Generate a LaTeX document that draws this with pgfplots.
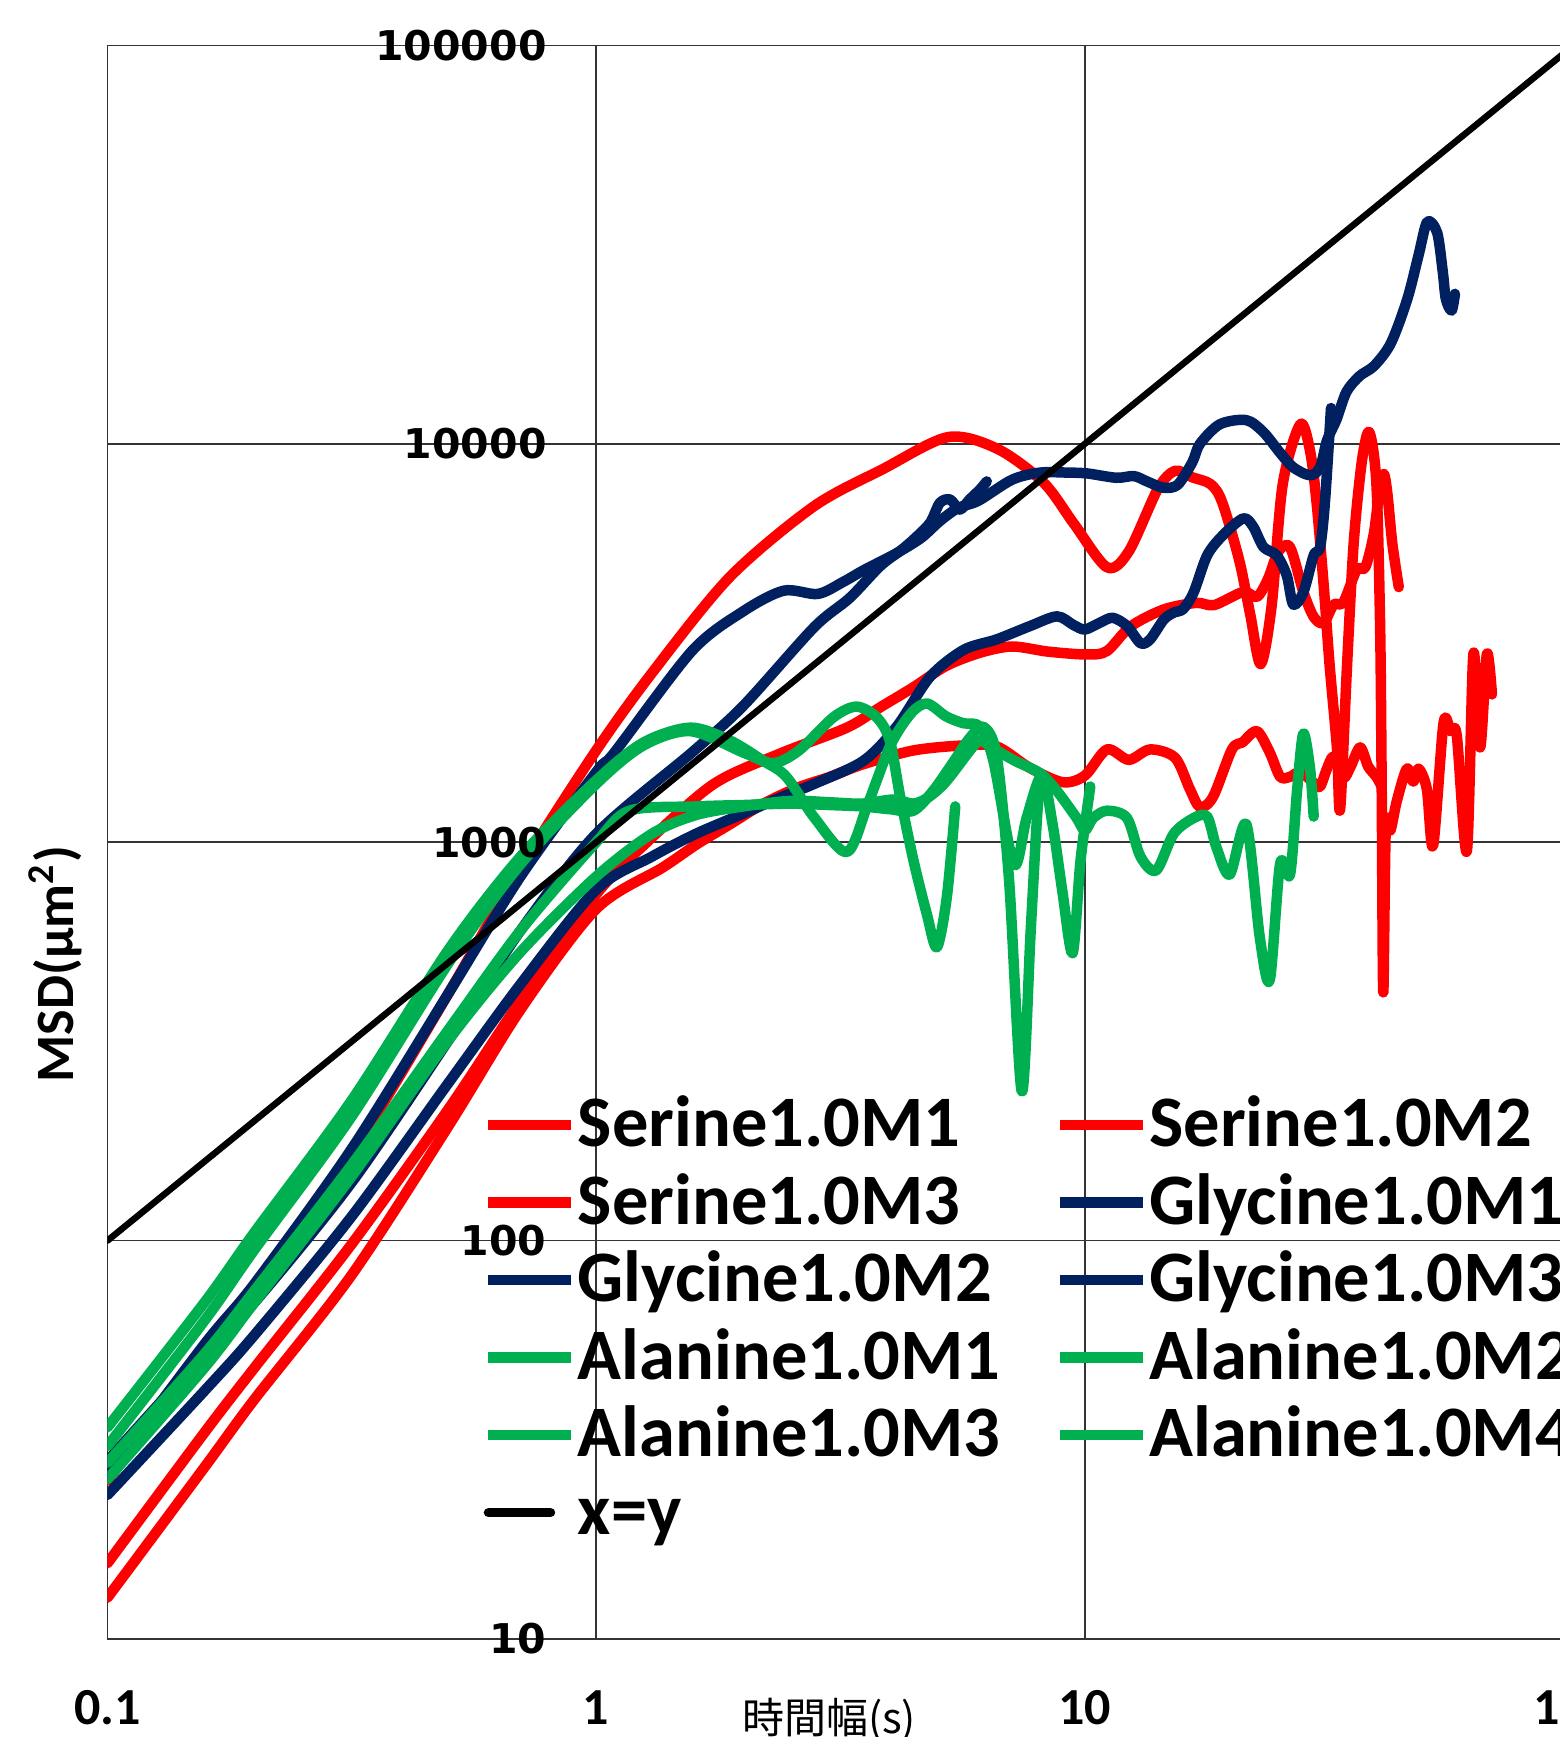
\documentclass[border=0pt]{standalone}
\usepackage{fontspec}
\setmainfont{Carlito}
\newfontfamily\dejavu{DejaVu Sans}
\newfontfamily\cjk{Noto Sans CJK JP}
\usepackage{pgfplots}
\pgfplotsset{compat=1.18}
\definecolor{sred}{HTML}{FF0000}
\definecolor{gnavy}{HTML}{002060}
\definecolor{agreen}{HTML}{00B050}
\begin{document}
\begin{tikzpicture}
\useasboundingbox (-21.5pt,-19.6pt) rectangle (290.5pt,327.8pt);
\begin{axis}[
  scale only axis, width=293.2pt, height=318.7pt,
  xmode=log, ymode=log, xmin=0.1, xmax=100, ymin=10, ymax=100000,
  xtick={0.1,1,10,100}, xticklabels={0.1,1,10,100},
  ytick={10,100,1000,10000,100000}, yticklabels={10,100,1000,10000,100000},
  yticklabel style={opacity=0},
  major tick length=0pt, minor tick length=0pt,
  grid=major, major grid style={line width=0.3pt, black!80},
  axis line style={line width=0.3pt, black!80},
  xticklabel style={font=\bfseries\fontsize{10.4}{12}\selectfont, anchor=north, inner sep=0pt, yshift=-10.1pt},
  ylabel={MSD(µm\textsuperscript{2})},
  ylabel style={at={(axis description cs:-0.0358,0.4236)}, anchor=center, font=\bfseries\fontsize{10.8}{12}\selectfont, inner sep=0pt},
  xlabel={\cjk 時間幅(s)},
  xlabel style={at={(axis description cs:0.4922,0)}, anchor=north, yshift=-11.6pt, font=\fontsize{8.4}{10}\selectfont, inner sep=0pt},
  legend columns=2,
  legend cell align=left,
  legend style={at={(axis description cs:0.2563,0.3417)}, anchor=north west, draw=none, fill=none, inner sep=0pt, outer sep=0pt,
    font=\bfseries\fontsize{14.5}{16}\selectfont, row sep=2pt,
    nodes={inner sep=0pt, text height=10.5pt, text depth=3pt},
    /tikz/every odd column/.append style={column sep=0.3pt},
    /tikz/every even column/.append style={column sep=10.9pt}},
  legend image code/.code={\draw[#1, line width=2.1pt, line cap=butt] (0pt,0.6pt) -- (16.5pt,0.6pt);},
  every axis plot/.append style={line width=2.1pt, line join=round, line cap=round, smooth, tension=0.5},
  after end axis/.code={
    \foreach \v in {10,100,1000,10000,100000}{
      \node[anchor=east, inner sep=0pt, xshift=88pt, font=\dejavu\bfseries\fontsize{8.2}{9}\selectfont] at (axis cs:0.1,\v) {\v};
    }
  },
]
% Serine 1.0M1
\addplot[sred] coordinates {(0.1,25) (0.158,52) (0.2,75) (0.316,165) (0.5,420) (0.7,860) (1.0,1700) (1.31,2690) (1.88,4640) (2.79,6970) (3.86,8640) (5.25,10400) (6.63,9710) (8.23,8000) (9.5,6300) (11.1,4900) (12.3,5370) (14.1,7700) (15.3,8560) (16.6,8240) (18.1,7920) (19.1,7140) (20.7,5100) (21.8,3730) (22.9,2800) (24.1,3900) (25.4,7900) (27.6,11200) (28.9,9600) (29.8,7140) (30.8,4450) (31.7,2770) (32.8,1730) (33.3,1210) (34.4,2770) (35.5,5640) (36.9,9060) (38.2,10700) (39.5,8000) (40.2,3500) (40.5,1400) (40.8,420) (41.3,1100) (42.2,1070) (43.5,1270) (45.6,1530) (47.0,1420) (48.2,1530) (50.1,1360) (51.6,980) (54.2,1990) (56.0,1900) (57.7,1850) (60.5,950) (62.4,2970) (64.4,1730) (66.5,2970) (68.1,2350)};
\addlegendentry{Serine1.0M1}
% Serine 1.0M2
\addplot[sred] coordinates {(0.1,15.5) (0.158,33) (0.2,48) (0.316,98) (0.5,215) (0.7,400) (1.0,740) (1.27,1000) (1.74,1400) (2.38,1670) (3.26,1940) (3.81,2180) (4.46,2450) (5.2,2770) (6.1,2990) (7.1,3100) (8.4,3010) (10.1,2960) (11.1,3020) (12.4,3480) (14.5,3840) (16.9,3990) (18.4,3940) (21.1,4250) (22.5,4130) (23.7,4580) (24.9,5370) (26.3,5500) (28.0,4250) (29.4,3680) (30.8,3550) (32.3,3950) (33.8,4000) (36.0,4830) (37.5,4900) (39.0,5920) (40.0,7500) (40.9,8400) (41.6,7500) (42.6,5600) (43.9,4370)};
\addlegendentry{Serine1.0M2}
% Serine 1.0M3
\addplot[sred] coordinates {(0.1,12.7) (0.158,27) (0.2,40) (0.316,82) (0.5,195) (0.7,380) (1.0,680) (1.37,865) (1.61,990) (1.88,1110) (2.2,1250) (2.58,1370) (3.01,1460) (3.52,1570) (4.46,1700) (5.64,1750) (6.6,1740) (7.7,1540) (9.0,1415) (10.0,1470) (11.1,1710) (12.3,1610) (13.6,1710) (15.3,1630) (16.4,1360) (17.2,1225) (18.3,1300) (20.0,1710) (21.0,1780) (22.5,1900) (23.9,1680) (25.1,1460) (26.3,1460) (27.6,1500) (29.4,1410) (30.3,1380) (31.3,1530) (32.3,1640) (33.8,1450) (35.0,1550) (36.6,1730) (38.0,1550) (39.5,1460) (40.5,1380)};
\addlegendentry{Serine1.0M3}
% Glycine 1.0M1
\addplot[gnavy] coordinates {(0.1,26) (0.158,55) (0.2,78) (0.316,170) (0.5,420) (0.7,820) (1.0,1500) (1.09,1680) (1.57,3020) (2.0,3800) (2.42,4280) (2.84,4200) (3.2,4500) (3.53,4820) (4.1,5300) (4.62,5800) (5.05,6400) (5.5,6900) (6.06,7200) (7.1,8130) (8.1,8470) (9.2,8470) (10.1,8430) (11.6,8220) (12.6,8300) (13.4,8050) (14.5,7760) (15.5,7900) (16.6,9000) (17.2,10000) (18.9,11200) (21.4,11470) (23.2,10700) (25.1,9490) (26.7,8730) (28.9,8340) (30.3,8730) (31.3,10200) (32.7,11470) (34.3,13500) (36.5,14800) (39.1,15700) (42.3,17900) (45.7,23100) (48.2,29800) (50.2,36100) (52.6,33900) (54.0,27100) (54.8,23100) (56.3,21600) (57.2,23800)};
\addlegendentry{Glycine1.0M1}
% Glycine 1.0M2
\addplot[gnavy] coordinates {(0.1,23) (0.158,42) (0.2,58) (0.316,115) (0.5,250) (0.7,440) (1.0,760) (1.3,920) (1.6,1050) (2.0,1180) (2.4,1300) (2.79,1400) (3.52,1600) (4.12,1950) (4.82,2600) (5.65,3040) (6.6,3230) (7.73,3490) (8.77,3690) (9.48,3510) (10.0,3420) (10.7,3550) (11.4,3660) (12.2,3490) (13.0,3160) (13.6,3230) (14.5,3620) (15.2,3770) (15.9,3850) (16.7,4240) (17.8,5250) (19.2,5910) (21.1,6500) (22.1,6200) (23.2,5510) (24.7,5250) (25.9,4670) (26.7,3950) (28.0,4240) (29.4,5250) (30.3,5510) (31.0,7140) (31.9,12300)};
\addlegendentry{Glycine1.0M2}
% Glycine 1.0M3
\addplot[gnavy] coordinates {(0.1,28) (0.158,52) (0.2,70) (0.316,140) (0.5,320) (0.7,600) (1.0,1050) (1.57,1680) (2.0,2200) (2.79,3460) (3.3,4100) (3.81,4930) (4.2,5400) (4.46,5750) (4.82,6330) (5.05,7110) (5.3,7250) (5.55,6840) (5.81,7250) (6.1,7680) (6.3,8050)};
\addlegendentry{Glycine1.0M3}
% Alanine 1.0M1
\addplot[agreen] coordinates {(0.1,34) (0.158,70) (0.2,105) (0.316,225) (0.5,540) (0.7,920) (1.0,1430) (1.25,1780) (1.56,1940) (1.88,1800) (2.2,1600) (2.45,1460) (2.8,1150) (3.26,945) (3.6,1250) (4.0,1750) (4.4,2100) (4.75,2230) (5.2,2070) (5.64,1990) (6.1,1950) (6.5,1600) (7.16,880) (7.6,1150) (8.17,1470) (8.6,1100) (9.0,750) (9.44,527) (9.8,900) (10.26,1380)};
\addlegendentry{Alanine1.0M1}
% Alanine 1.0M2
\addplot[agreen] coordinates {(0.1,30.5) (0.158,63) (0.2,95) (0.316,205) (0.5,500) (0.7,880) (1.0,1400) (1.25,1750) (1.56,1900) (2.0,1680) (2.3,1580) (2.6,1700) (3.06,2060) (3.41,2190) (3.75,2060) (3.99,1800) (4.19,1300) (4.46,900) (4.75,660) (4.98,545) (5.22,730) (5.43,1230)};
\addlegendentry{Alanine1.0M2}
% Alanine 1.0M3
\addplot[agreen] coordinates {(0.1,27.7) (0.158,52) (0.2,75) (0.316,155) (0.5,340) (0.7,600) (1.0,1000) (1.17,1200) (1.6,1230) (2.0,1240) (2.5,1250) (3.0,1240) (3.5,1230) (4.0,1210) (4.46,1200) (4.9,1350) (5.4,1600) (5.8,1820) (6.2,1950) (6.6,1650) (7.0,800) (7.43,237) (7.75,600) (8.0,1200) (8.17,1470)};
\addlegendentry{Alanine1.0M3}
% Alanine 1.0M4
\addplot[agreen] coordinates {(0.1,25.2) (0.158,48) (0.2,70) (0.316,145) (0.5,320) (0.7,530) (1.0,820) (1.3,1050) (1.6,1170) (2.0,1230) (2.5,1270) (3.0,1260) (3.5,1250) (4.06,1280) (4.46,1250) (4.8,1300) (5.2,1420) (5.82,1700) (6.1,1800) (6.6,1700) (7.2,1600) (8.1,1490) (8.75,1350) (9.6,1155) (10.0,1070) (10.4,1150) (11.1,1200) (12.2,1150) (13.0,920) (14.0,850) (15.2,1050) (16.7,1150) (17.8,1160) (18.6,970) (19.8,830) (21.4,1110) (22.8,578) (23.9,451) (25.1,884) (26.3,830) (27.2,1360) (28.0,1875) (28.9,1530) (29.4,1160)};
\addlegendentry{Alanine1.0M4}
% x=y
\addplot[black, line width=1.3pt, legend image code/.code={\draw[black, line width=1.9pt] (0pt,0.6pt) -- (12.4pt,0.6pt);}] coordinates {(0.1,100) (100,100000)};
\addlegendentry{x=y}
\end{axis}
\end{tikzpicture}
\end{document}
